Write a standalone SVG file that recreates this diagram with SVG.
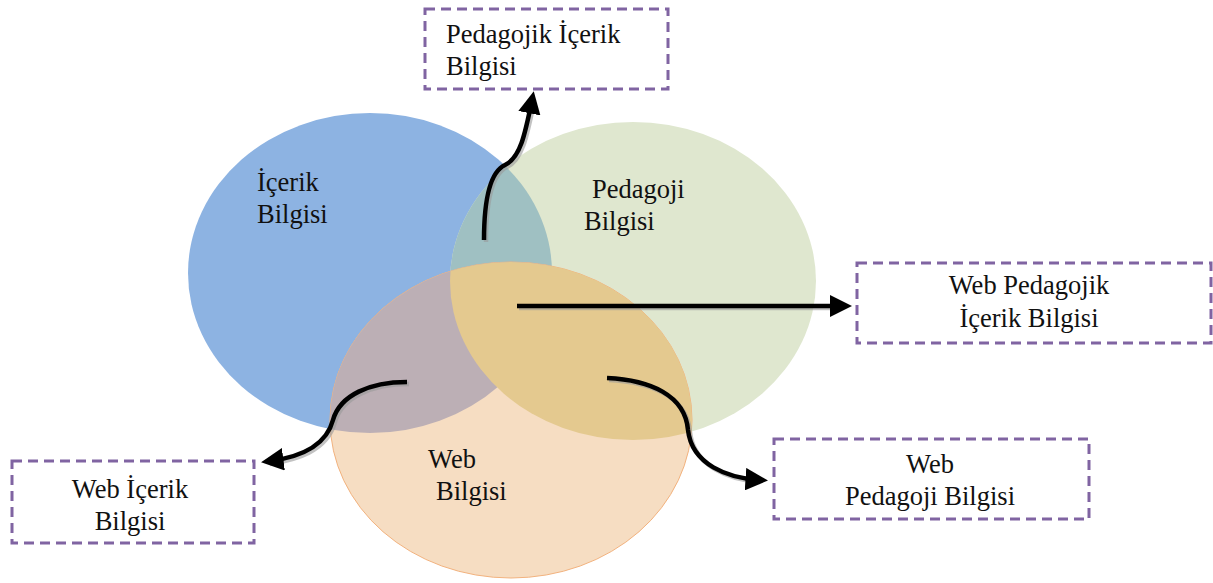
<svg xmlns="http://www.w3.org/2000/svg" width="1213" height="583" viewBox="0 0 1213 583">
<style>
text{font-family:"Liberation Serif","Times New Roman",serif;font-size:26.5px;fill:#111}
.box{fill:#fff;stroke:#8064A2;stroke-width:3;stroke-dasharray:10 6}
.arr{fill:none;stroke:#000;stroke-width:4.5;marker-end:url(#ah)}
.sh{fill:none;stroke:#999;stroke-width:4.5;opacity:0.6}
</style>
<defs>
<marker id="ah" markerWidth="5" markerHeight="5" refX="3" refY="2.5" orient="auto" markerUnits="strokeWidth"><path d="M0,0 L5,2.5 L0,5 Z" fill="#000"/></marker>
<clipPath id="cBlue"><ellipse cx="370" cy="273" rx="182" ry="160"/></clipPath>
<clipPath id="cGreen"><ellipse cx="633" cy="281" rx="183" ry="159"/></clipPath>
</defs>
<rect width="1213" height="583" fill="#fff"/>
<g id="venn">
<ellipse id="icerik" cx="370" cy="273" rx="182" ry="160" fill="#8DB3E2"/>
<ellipse id="pedagoji" cx="633" cy="281" rx="183" ry="159" fill="#DFE7CF"/>
<ellipse cx="633" cy="281" rx="183" ry="159" fill="#9FC0C2" clip-path="url(#cBlue)"/>
<ellipse id="web" cx="511" cy="420" rx="181" ry="158" fill="#F6DDC2" stroke="#F2B27E" stroke-width="1"/>
<ellipse cx="511" cy="420" rx="181" ry="158" fill="#BCAFB5" clip-path="url(#cBlue)"/>
<ellipse cx="511" cy="420" rx="181" ry="158" fill="#E4C98F" clip-path="url(#cGreen)"/>
<text x="257" y="191">İçerik</text>
<text x="257" y="223">Bilgisi</text>
<text x="592" y="198">Pedagoji</text>
<text x="584" y="230">Bilgisi</text>
<text x="428" y="468">Web</text>
<text x="436" y="500">Bilgisi</text>
</g>
<g id="connectors">
<path class="sh" d="M486,242 C486,202 492,174 507,167 C522,160 527,137 534,102"/>
<path class="arr" d="M484,240 C484,200 490,172 505,165 C520,158 525,135 532,100"/>
<path class="sh" d="M519,308 L840,308"/>
<path class="arr" d="M517,306 L843,306"/>
<path class="sh" d="M409,384 C372,384 342,397 335,422 C327,452 295,460 270,464"/>
<path class="arr" d="M407,382 C370,382 340,395 333,420 C325,450 293,458 270,461"/>
<path class="sh" d="M609,380 C652,382 687,397 690,432 C694,467 730,480 760,482"/>
<path class="arr" d="M607,378 C650,380 685,395 688,430 C692,465 728,478 759,480"/>
</g>
<g id="box-pik">
<rect class="box" x="425" y="9" width="243" height="80"/>
<text x="446" y="43">Pedagojik İçerik</text>
<text x="446" y="75">Bilgisi</text>
</g>
<g id="box-wpik">
<rect class="box" x="857" y="263" width="354" height="80"/>
<text x="1029" y="294" text-anchor="middle">Web Pedagojik</text>
<text x="1029" y="327" text-anchor="middle">İçerik Bilgisi</text>
</g>
<g id="box-wik">
<rect class="box" x="12" y="461" width="242" height="82"/>
<text x="130" y="498" text-anchor="middle">Web İçerik</text>
<text x="130" y="530" text-anchor="middle">Bilgisi</text>
</g>
<g id="box-wpb">
<rect class="box" x="774" y="439" width="315" height="80"/>
<text x="930" y="473" text-anchor="middle">Web</text>
<text x="930" y="505" text-anchor="middle">Pedagoji Bilgisi</text>
</g>
</svg>
